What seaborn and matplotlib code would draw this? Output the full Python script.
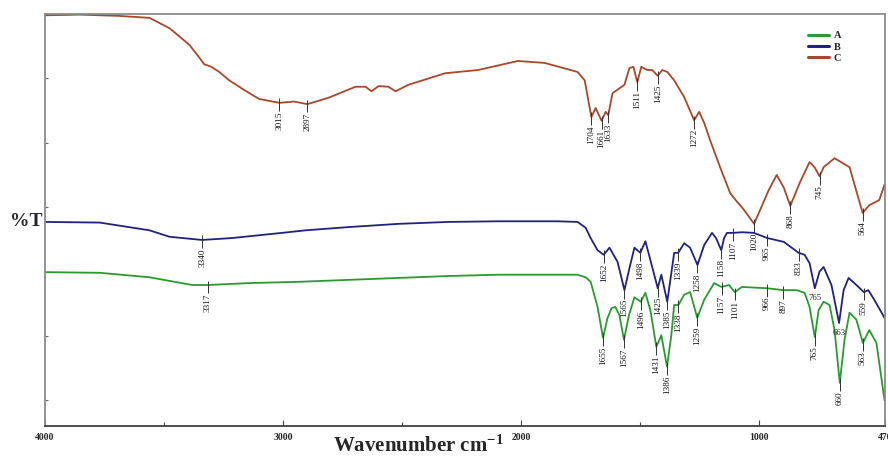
import numpy as np
import pandas as pd
import matplotlib
matplotlib.use("Agg")
import matplotlib.pyplot as plt
import seaborn as sns

# ---- spectra: wavenumber (cm-1) and %T (arbitrary offset scale) ----
wn_A = [4000, 3770, 3561, 3381, 3317, 3142, 2933, 2724, 2515, 2305, 2096, 1845,
        1762, 1728, 1707, 1678, 1655, 1636, 1619, 1603, 1586, 1567, 1546, 1523,
        1496, 1477, 1456, 1431, 1410, 1386, 1368, 1356, 1338, 1314, 1289, 1259,
        1230, 1188, 1157, 1126, 1101, 1071, 966, 897, 841, 808, 787, 765, 749,
        728, 703, 682, 660, 640, 619, 590, 563, 536, 506, 472]
T_A = [23.9, 23.8, 23.1, 21.9, 21.9, 22.2, 22.4, 22.7, 23.0, 23.3, 23.5, 23.5,
       23.5, 23.1, 22.4, 18.5, 13.7, 16.8, 18.3, 18.5, 17.2, 13.4, 17.2, 20.0,
       19.3, 20.7, 18.0, 12.3, 14.1, 9.2, 14.1, 18.8, 18.8, 20.4, 20.8, 16.8,
       19.6, 22.2, 21.6, 21.9, 20.8, 21.6, 21.4, 21.1, 21.1, 20.7, 18.5, 13.8, 18.0,
       19.3, 18.8, 14.9, 6.7, 13.4, 17.6, 16.5, 12.9, 14.9, 12.9, 4.0]

wn_B = [4000, 3770, 3561, 3477, 3340, 3213, 3004, 2904, 2724, 2515, 2305, 2096,
        1845, 1762, 1728, 1707, 1678, 1652, 1628, 1594, 1565, 1544, 1523, 1498,
        1477, 1456, 1425, 1410, 1385, 1372, 1356, 1339, 1314, 1289, 1258, 1230,
        1197, 1180, 1158, 1146, 1134, 1107, 1071, 1021, 965, 895, 833, 808, 787,
        765, 745, 728, 695, 663, 644, 623, 590, 559, 540, 515, 472]
T_B = [31.7, 31.6, 30.4, 29.4, 28.9, 29.2, 30.0, 30.4, 30.9, 31.4, 31.7, 31.8,
       31.8, 31.7, 30.8, 29.2, 27.3, 26.6, 27.7, 25.5, 21.1, 24.5, 27.7, 26.9,
       28.7, 25.8, 21.4, 23.5, 19.3, 22.7, 26.9, 26.9, 28.4, 27.7, 25.0, 28.1,
       30.0, 29.2, 27.3, 29.2, 30.0, 30.0, 30.1, 30.0, 29.2, 28.6, 26.9, 26.6, 25.3,
       21.4, 24.0, 24.7, 21.9, 16.0, 21.1, 23.0, 21.9, 20.8, 21.1, 19.6, 16.8]

wn_C = [4000, 3854, 3686, 3561, 3477, 3393, 3351, 3331, 3301, 3268, 3226, 3163,
        3100, 3015, 2954, 2897, 2808, 2695, 2653, 2628, 2598, 2557, 2527, 2473,
        2318, 2180, 2013, 1900, 1762, 1732, 1704, 1686, 1661, 1644, 1633, 1615,
        1565, 1544, 1527, 1511, 1494, 1469, 1448, 1425, 1406, 1385, 1356, 1314,
        1272, 1251, 1230, 1205, 1163, 1121, 1100, 1063, 1020, 999, 958, 925, 895,
        868, 828, 787, 766, 745, 728, 682, 619, 564, 536, 494, 472]
T_C = [63.8, 63.9, 63.7, 63.4, 61.8, 59.2, 57.2, 56.2, 55.8, 55.0, 53.7, 52.2,
       50.8, 50.2, 50.4, 50.0, 51.0, 52.7, 52.7, 52.0, 52.8, 52.7, 52.0, 53.0,
       54.8, 55.3, 56.7, 56.4, 55.0, 53.7, 48.0, 49.4, 47.4, 48.8, 48.3, 51.7,
       53.0, 55.6, 55.8, 53.4, 55.8, 55.3, 55.3, 54.4, 55.3, 55.0, 53.7, 51.1,
       47.5, 48.8, 47.1, 44.4, 40.2, 36.2, 35.2, 33.6, 31.4, 33.2, 36.7, 39.0, 37.0,
       34.2, 37.8, 41.0, 40.2, 38.8, 40.2, 41.6, 40.2, 33.1, 34.3, 35.1, 37.5]

# ---- assigned band positions ----
peaks_A = [3317, 1655, 1567, 1496, 1431, 1386, 1338, 1259, 1157, 1101, 966, 897,
           765, 660, 563]
peaks_B = [3340, 1652, 1565, 1498, 1425, 1385, 1339, 1258, 1158, 1107, 965, 833,
           765, 663, 559]
peaks_C = [3015, 2897, 1704, 1661, 1633, 1511, 1425, 1272, 1020, 868, 745, 564]
flat_B = [765, 663]          # written horizontally

x_ticks = [4000, 3000, 2000, 1000, 470]
x_tick_labels = ["4000", "3000", "2000", "1000", "470"]
samples = ["A", "B", "C"]
colors = {"A": "#2a9a30", "B": "#1f237f", "C": "#a8482a"}

sns.set_style("white")
plt.rcParams["font.family"] = ["Liberation Serif", "DejaVu Serif"]
plt.rcParams["mathtext.fontset"] = "custom"
plt.rcParams["mathtext.rm"] = "Liberation Serif:bold"
plt.rcParams["mathtext.it"] = "Liberation Serif:bold"
plt.rcParams["mathtext.bf"] = "Liberation Serif:bold"

frames = []
for s, w, t in zip(samples, [wn_A, wn_B, wn_C], [T_A, T_B, T_C]):
    frames.append(pd.DataFrame({"wn": w, "T": t, "sample": s}))
df = pd.concat(frames, ignore_index=True)

fig = plt.figure(figsize=(8.88, 4.57), dpi=100)
ax = fig.add_axes([45 / 888, 1 - 426 / 457, 840 / 888, 412 / 457])

sns.lineplot(data=df, x="wn", y="T", hue="sample", palette=colors, sort=False,
             estimator=None, units="sample", linewidth=1.3, ax=ax, legend=False)

ax.set_xlim(4000, 470)
ax.set_ylim(0, 64)

# peak markers and labels
def mark(wns, T, peaks, flat=()):
    xs = np.array(wns[::-1], float)
    ys = np.array(T[::-1], float)
    for p in peaks:
        y = float(np.interp(p, xs, ys))
        if p in flat:
            ax.text(p, y - 0.9, str(p), ha="center", va="top", fontsize=6.3,
                    color="#222222")
            continue
        ax.vlines(p, y - 1.3, y + 0.7, color="#333333", linewidth=0.7)
        ax.text(p, y - 1.35, str(p), rotation=90, ha="center", va="top",
                fontsize=6.6, color="#111111")

mark(wn_A, T_A, peaks_A)
mark(wn_B, T_B, peaks_B, flat_B)
mark(wn_C, T_C, peaks_C)

# axes styling
ax.set_xticks(x_ticks)
ax.set_xticklabels(x_tick_labels, fontsize=7, fontweight="bold")
ax.set_xticks([3500, 2500, 1500], minor=True)
ax.set_yticks(np.arange(4, 65, 10))
ax.set_yticklabels([])
ax.tick_params(axis="x", which="major", direction="in", length=4, width=0.8,
               pad=5, color="#444444", bottom=True)
ax.tick_params(axis="x", which="minor", direction="in", length=3, width=0.8,
               color="#444444", bottom=True)
ax.tick_params(axis="y", direction="in", length=2, width=0.8, color="#666666",
               left=True)
for side in ["left", "top", "right"]:
    ax.spines[side].set_color("#8a8a8a")
    ax.spines[side].set_linewidth(1.3)
ax.spines["bottom"].set_color("#404040")
ax.spines["bottom"].set_linewidth(1.3)

ax.set_xlabel("")
ax.set_ylabel("")
fig.text(418 / 888, 1 - 452 / 457, r"Wavenumber cm$^{-1}$", ha="center",
         va="baseline", fontsize=15, fontweight="bold")
fig.text(10 / 888, 1 - 222 / 457, "%T", ha="left", va="center", fontsize=14,
         fontweight="bold")

handles = [plt.Line2D([], [], color=colors[s], linewidth=2.2) for s in samples]
leg = ax.legend(handles, samples, loc="upper left",
                bbox_to_anchor=((808 - 45) / 840, (426 - 31) / 412),
                frameon=False, borderpad=0, borderaxespad=0, handlelength=2.0,
                handletextpad=0.45, labelspacing=0.2,
                prop={"family": "Liberation Serif", "weight": "bold", "size": 7.5})

fig.savefig("out.png", dpi=100)
